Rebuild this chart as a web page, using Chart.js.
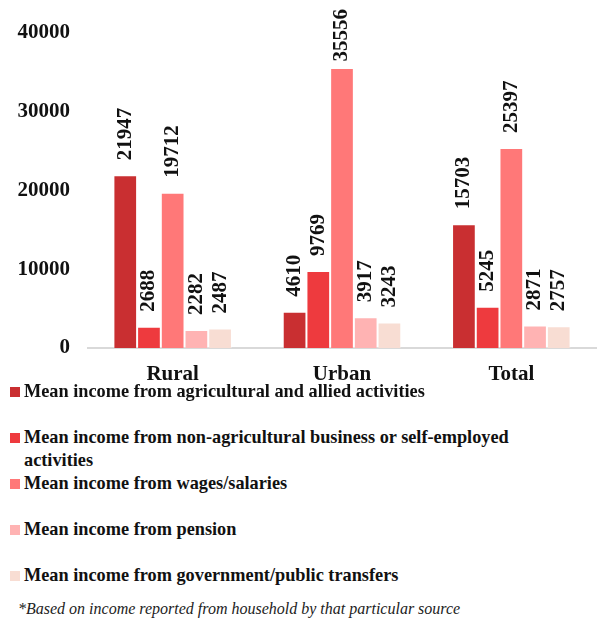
<!DOCTYPE html>
<html>
<head>
<meta charset="utf-8">
<script src="https://cdn.jsdelivr.net/npm/chart.js@4/dist/chart.umd.min.js"></script>
<style>
  body { margin: 0; background: #fff; font-family: "Liberation Serif", "Times New Roman", serif; }
  .wrap { position: relative; width: 608px; height: 385px; }
  .legend { position: absolute; left: 0; top: 380px; width: 608px; }
  .item { position: absolute; left: 10px; display: flex; align-items: flex-start; font-weight: bold; font-size: 18.3px; line-height: 23px; color: #111; }
  .sw { width: 10px; height: 10px; margin-top: 7px; margin-right: 4px; flex: none; }
  .txt { width: 505px; }
  .note { position: absolute; left: 18px; top: 599px; font-style: italic; font-size: 16px; line-height: 20px; color: #222; }
</style>
</head>
<body>
<div class="wrap"><canvas id="c" width="608" height="385"></canvas></div>
<div class="legend" id="legend"></div>
<div class="note">*Based on income reported from household by that particular source</div>
<script>
// categories and series
const categories = ["Rural", "Urban", "Total"];
const seriesNames = [
  "Mean income from agricultural and allied activities",
  "Mean income from non-agricultural business or self-employed activities",
  "Mean income from wages/salaries",
  "Mean income from pension",
  "Mean income from government/public transfers"
];
const agricultural = [21947, 4610, 15703];
const nonAgricultural = [2688, 9769, 5245];
const wages = [19712, 35556, 25397];
const pension = [2282, 3917, 2871];
const transfers = [2487, 3243, 2757];
const yTicks = [0, 10000, 20000, 30000, 40000];

const colors = ["#C92F31", "#EE3A3E", "#FF7878", "#FFB3B3", "#F8DDD3"];
const seriesValues = [agricultural, nonAgricultural, wages, pension, transfers];

// legend rows (second one wraps to two lines)
const legendTops = [0, 46, 92, 138, 184];
const legendEl = document.getElementById("legend");
seriesNames.forEach((name, i) => {
  const row = document.createElement("div");
  row.className = "item";
  row.style.top = legendTops[i] + "px";
  row.innerHTML = `<span class="sw" style="background:${colors[i]}"></span><span class="txt">${name}</span>`;
  legendEl.appendChild(row);
});

// draw rotated value labels above bars, kept inside the canvas at the top
const valueLabels = {
  id: "valueLabels",
  afterDatasetsDraw(chart) {
    const ctx = chart.ctx;
    ctx.save();
    ctx.font = "bold 21px 'Liberation Serif'";
    ctx.fillStyle = "#111";
    ctx.textAlign = "left";
    ctx.textBaseline = "middle";
    chart.data.datasets.forEach((ds, i) => {
      chart.getDatasetMeta(i).data.forEach((bar, j) => {
        const text = String(ds.data[j]);
        const w = ctx.measureText(text).width;
        let start = bar.y - 15;
        if (start - w < 9) start = 9 + w;
        ctx.save();
        ctx.translate(bar.x, start);
        ctx.rotate(-Math.PI / 2);
        ctx.fillText(text, 0, 0);
        ctx.restore();
      });
    });
    ctx.restore();
  }
};

new Chart(document.getElementById("c"), {
  type: "bar",
  data: {
    labels: categories,
    datasets: seriesNames.map((name, i) => ({
      label: name,
      data: seriesValues[i],
      backgroundColor: colors[i],
      borderColor: "rgba(255,255,255,0.35)",
      borderWidth: 1,
      categoryPercentage: 0.7,
      barPercentage: 1.0
    }))
  },
  options: {
    responsive: false,
    animation: false,
    layout: { padding: { top: 33, right: 12, left: 0, bottom: 0 } },
    plugins: { legend: { display: false }, tooltip: { enabled: false } },
    scales: {
      x: {
        grid: { display: false },
        border: { display: true, color: "#d9d9d9", width: 2 },
        ticks: { color: "#111", font: { family: "Liberation Serif", weight: "bold", size: 21 }, padding: 6 },
        afterFit(scale) { scale.height = 37; }
      },
      y: {
        min: 0,
        max: 40000,
        afterBuildTicks(scale) { scale.ticks = yTicks.map(v => ({ value: v })); },
        grid: { display: false },
        border: { display: false },
        ticks: {
          color: "#111",
          font: { family: "Liberation Serif", weight: "bold", size: 21 },
          padding: 10,
          callback: (v) => String(v)
        },
        afterFit(scale) { scale.width = 88; }
      }
    }
  },
  plugins: [valueLabels]
});
</script>
</body>
</html>
